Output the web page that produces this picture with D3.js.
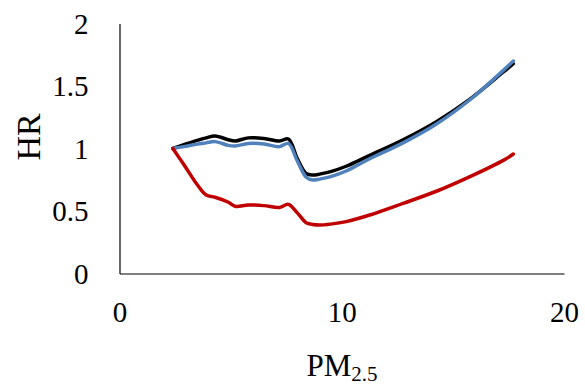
<!DOCTYPE html>
<html>
<head>
<meta charset="utf-8">
<script src="https://cdn.jsdelivr.net/npm/d3@7"></script>
<style>
  body { margin: 0; background: #fff; }
  svg { display: block; }
  text { font-family: "Liberation Serif", "DejaVu Serif", serif; fill: #000; }
</style>
</head>
<body>
<div id="chart"></div>
<script>
// PM2.5 values shared by every series
const pm = [2.4, 2.9, 3.5, 3.9, 4.3, 4.9, 5.2, 5.8, 6.5, 7.2, 7.6, 8.0, 8.4, 8.7, 9.0, 9.5, 10.2, 11.26, 12.76, 14.26, 15.77, 17.27, 17.72];
const hrBlack = [1.0, 1.03, 1.065, 1.085, 1.10, 1.07, 1.06, 1.085, 1.08, 1.06, 1.076, 0.92, 0.80, 0.788, 0.795, 0.815, 0.858, 0.945, 1.07, 1.215, 1.395, 1.612, 1.678];
const hrBlue = [1.0, 1.015, 1.035, 1.045, 1.055, 1.025, 1.02, 1.04, 1.036, 1.015, 1.04, 0.90, 0.77, 0.748, 0.755, 0.775, 0.82, 0.918, 1.045, 1.196, 1.39, 1.625, 1.70];
const hrRed = [1.0, 0.87, 0.71, 0.628, 0.61, 0.57, 0.538, 0.548, 0.543, 0.528, 0.553, 0.485, 0.406, 0.392, 0.388, 0.395, 0.415, 0.468, 0.561, 0.658, 0.775, 0.905, 0.956];
const xTicks = [0, 10, 20];
const yTicks = [0, 0.5, 1, 1.5, 2];

const width = 585, height = 385;
const margin = { top: 23.5, right: 21, bottom: 111.5, left: 119.5 };

const svg = d3.select('#chart').append('svg')
    .attr('width', width)
    .attr('height', height);

const x = d3.scaleLinear().domain([0, 20]).range([margin.left, width - margin.right]);
const y = d3.scaleLinear().domain([0, 2]).range([height - margin.bottom, margin.top]);

// axes: lines only, no tick marks
const xAxis = svg.append('g')
    .attr('transform', `translate(0, ${y(0)})`)
    .call(d3.axisBottom(x).tickValues(xTicks).tickSize(0).tickPadding(28).tickFormat(d3.format('d')));
const yAxis = svg.append('g')
    .attr('transform', `translate(${x(0)}, 0)`)
    .call(d3.axisLeft(y).tickValues(yTicks).tickSize(0).tickPadding(31).tickFormat(d => d));

[xAxis, yAxis].forEach(g => {
    g.select('.domain').attr('stroke', '#000').attr('stroke-width', 1.2);
    g.selectAll('text').style('font-family', '"Liberation Serif", serif').style('font-size', '29px').attr('fill', '#000');
});
yAxis.selectAll('text').attr('dy', '0.34em');

const series = [
    { values: hrBlack, color: '#000000' },
    { values: hrBlue, color: '#4f81bd' },
    { values: hrRed, color: '#c00000' }
];

const line = d3.line()
    .x(d => x(d[0]))
    .y(d => y(d[1]))
    .curve(d3.curveCatmullRom.alpha(0.5));

series.forEach(s => {
    svg.append('path')
        .datum(pm.map((p, i) => [p, s.values[i]]))
        .attr('fill', 'none')
        .attr('stroke', s.color)
        .attr('stroke-width', 3.5)
        .attr('stroke-linecap', 'round')
        .attr('stroke-linejoin', 'round')
        .attr('d', line);
});

// axis titles
const xt = svg.append('text')
    .attr('x', 342)
    .attr('y', 376)
    .attr('text-anchor', 'middle')
    .style('font-size', '31px');
xt.append('tspan').text('PM');
xt.append('tspan').attr('dy', 5).style('font-size', '21px').text('2.5');

svg.append('text')
    .attr('transform', 'translate(40, 137) rotate(-90)')
    .attr('text-anchor', 'middle')
    .style('font-size', '34px')
    .text('HR');
</script>
</body>
</html>
